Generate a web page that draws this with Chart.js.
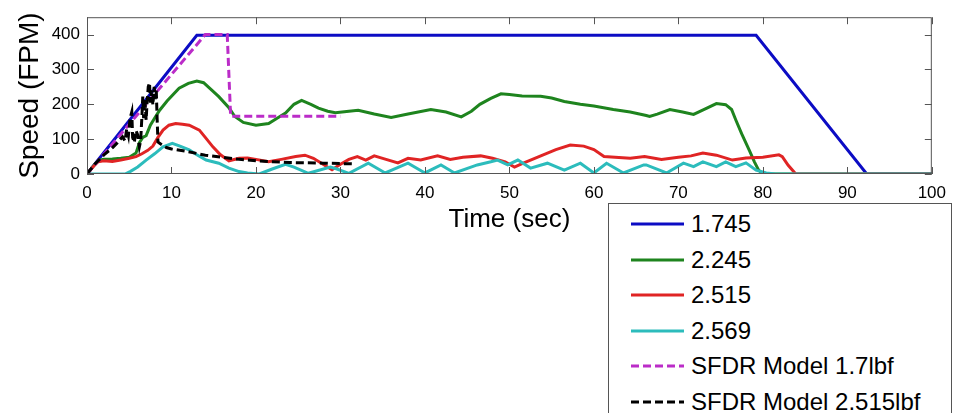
<!DOCTYPE html>
<html>
<head>
<meta charset="utf-8">
<script src="https://cdn.jsdelivr.net/npm/chart.js@4/dist/chart.umd.min.js"></script>
<style>
  html, body { margin: 0; padding: 0; background: #fff; }
  #wrap { position: relative; width: 955px; height: 413px; overflow: hidden; }
  #legend {
    position: absolute; left: 608px; top: 203px; width: 342px; height: 240px;
    border: 1px solid #555; background: #fff;
    font-family: "Liberation Sans", Arial, sans-serif; font-size: 24px; color: #000;
  }
  .row { position: absolute; left: 0; height: 30px; display: flex; align-items: center; white-space: nowrap; }
  .row svg { margin-left: 22px; margin-right: 7px; }
</style>
</head>
<body>
<div id="wrap">
  <canvas id="speedChart" width="955" height="413"></canvas>
  <div id="legend"></div>
</div>
<script>
// series names / colors (legend order)
const seriesNames = ['1.745', '2.245', '2.515', '2.569', 'SFDR Model 1.7lbf', 'SFDR Model 2.515lbf'];
const seriesColors = ['#0c0cc4', '#1e841e', '#e02424', '#2cbcbc', '#bb2cc8', '#000000'];
const seriesDashed = [false, false, false, false, true, true];

// x ticks / y ticks
const xTicks = [0, 10, 20, 30, 40, 50, 60, 70, 80, 90, 100];
const yTicks = [0, 100, 200, 300, 400];

// 1.745
const blueT = [0, 13, 79.2, 92.3, 100];
const blueV = [0, 398, 398, 0, 0];

// 2.245
const greenT = [0, 0.5, 1, 1.5, 2, 3, 4, 5, 5.8, 6.2, 6.6, 7, 7.5, 8, 8.6, 9.5, 10.9, 12, 13, 13.8, 14.8, 15.6, 16.8, 17.5, 18.5, 20, 21.5, 22.5, 23.5, 24.5, 25.4, 26.5, 27.4, 28.5, 29.4, 31, 32.1, 34, 36, 38, 40.7, 42.5, 44.3, 45.5, 46.5, 47.8, 49, 50, 51.5, 53.7, 55, 56.5, 58.4, 60, 62.3, 64.3, 66.2, 66.6, 67.5, 69, 70.5, 71.8, 73, 74.5, 75.6, 76.3, 76.8, 77.5, 78.4, 79, 79.5, 80, 100];
const greenV = [0, 15, 30, 40, 42, 43, 45, 48, 60, 90, 105, 110, 140, 160, 183, 210, 246, 260, 267, 262, 240, 222, 190, 165, 148, 140, 145, 160, 175, 200, 211, 200, 189, 180, 176, 180, 183, 172, 162, 172, 185, 178, 164, 180, 200, 217, 230, 228, 224, 223, 218, 208, 200, 195, 185, 178, 168, 165, 172, 185, 178, 171, 185, 202, 199, 185, 155, 115, 68, 35, 11, 0, 0];

// 2.515
const redT = [0, 0.7, 1.3, 2, 3, 4, 5, 5.8, 6.5, 7.2, 7.8, 8.4, 9, 9.7, 10.5, 11.3, 12.1, 13.3, 14, 14.9, 15.8, 16.8, 18, 19, 20, 21.5, 23, 24.7, 25.8, 26.8, 27.8, 29, 30, 31, 32, 33, 34, 35, 36.8, 38, 39.5, 41.5, 43, 44.5, 46.6, 48, 49.5, 50.6, 51.5, 52.5, 54, 55.5, 57.2, 58.8, 60, 61.2, 62.5, 64.3, 66, 68, 70, 71.5, 72.9, 74.5, 76.4, 78, 80, 81.9, 82.3, 83, 83.9, 100];
const redV = [0, 20, 35, 38, 36, 40, 45, 50, 58, 68, 80, 105, 126, 140, 145, 143, 140, 126, 105, 78, 55, 38, 45, 46, 42, 35, 42, 50, 54, 45, 30, 12, 28, 42, 50, 40, 52, 45, 32, 45, 40, 52, 42, 48, 52, 45, 35, 20, 30, 40, 55, 70, 83, 80, 70, 50, 48, 45, 50, 42, 48, 52, 60, 54, 40, 46, 48, 55, 50, 25, 0, 0];

// 2.569
const cyanT = [0, 4.5, 5.1, 6, 7, 8, 9, 10.1, 11, 12.1, 13, 14.1, 15.6, 16.8, 18, 19, 20.4, 22, 23.5, 24.5, 26.2, 28.8, 29.5, 31, 33.3, 35.3, 38, 40, 41.9, 43.5, 46.2, 47.8, 48.6, 49.8, 51, 52.5, 54.5, 56.5, 58.4, 60, 61.5, 63.5, 65.9, 66.2, 68.6, 70.6, 71.8, 72.9, 74.5, 75.6, 76.8, 78, 79.2, 80.4, 81.5, 100];
const cyanV = [0, 0, 7, 20, 40, 58, 78, 88, 80, 69, 55, 40, 31, 17, 7, 3, 0, 15, 28, 20, 2, 20, 15, 2, 31, 3, 31, 3, 26, 3, 26, 35, 40, 26, 40, 17, 31, 11, 31, 3, 31, 3, 26, 26, 3, 31, 21, 35, 21, 35, 21, 32, 11, 3, 0, 0];

// SFDR Model 1.7lbf
const magT = [0, 14, 16.6, 17.0, 30];
const magV = [0, 400, 400, 166, 166];

// SFDR Model 2.515lbf
const blackT = [0, 1, 2, 3, 3.6, 4.2, 4.5, 4.7, 4.9, 5.1, 5.3, 5.4, 5.6, 5.8, 6.0, 6.2, 6.35, 6.5, 6.6, 6.7, 6.85, 7.0, 7.1, 7.25, 7.4, 7.5, 7.65, 7.8, 7.95, 8.1, 8.2, 8.3, 8.4, 8.6, 9.4, 10, 12, 14, 16, 18, 20, 22, 24, 26, 28, 30, 31.5];
const blackV = [0, 30, 55, 75, 90, 107, 95, 130, 110, 160, 178, 105, 90, 125, 112, 78, 95, 165, 222, 160, 215, 155, 200, 250, 262, 205, 240, 198, 250, 215, 240, 160, 92, 88, 76, 72, 64, 54, 48, 42, 38, 35, 33, 32, 31, 30, 29];

const seriesT = [blueT, greenT, redT, cyanT, magT, blackT];
const seriesV = [blueV, greenV, redV, cyanV, magV, blackV];

const FONT = '"Liberation Sans", Arial, sans-serif';

const datasets = seriesNames.map((name, i) => ({
  label: name,
  data: seriesT[i].map((t, k) => ({ x: t, y: seriesV[i][k] })),
  borderColor: seriesColors[i],
  borderWidth: 3,
  borderDash: seriesDashed[i] ? [8, 4] : [],
  pointRadius: 0,
  tension: 0,
  fill: false,
  order: seriesNames.length - i
}));

// box + inward ticks like matlab
const framePlugin = {
  id: 'frame',
  afterDraw(chart) {
    const { ctx, chartArea: a, scales: { x, y } } = chart;
    ctx.save();
    ctx.strokeStyle = '#555';
    ctx.lineWidth = 1;
    ctx.strokeRect(a.left + 0.5, a.top + 0.5, a.right - a.left - 1, a.bottom - a.top - 1);
    ctx.beginPath();
    xTicks.forEach(v => {
      const px = Math.round(x.getPixelForValue(v)) + 0.5;
      ctx.moveTo(px, a.bottom); ctx.lineTo(px, a.bottom - 7);
      ctx.moveTo(px, a.top); ctx.lineTo(px, a.top + 7);
    });
    yTicks.forEach(v => {
      const py = Math.round(y.getPixelForValue(v)) + 0.5;
      ctx.moveTo(a.left, py); ctx.lineTo(a.left + 7, py);
      ctx.moveTo(a.right, py); ctx.lineTo(a.right - 7, py);
    });
    ctx.stroke();
    ctx.restore();
  }
};

const ctx = document.getElementById('speedChart').getContext('2d');
const chart = new Chart(ctx, {
  type: 'line',
  data: { datasets },
  options: {
    responsive: false,
    animation: false,
    layout: { padding: { left: 0, right: 18, top: 16, bottom: 178 } },
    plugins: { legend: { display: false }, tooltip: { enabled: false } },
    scales: {
      x: {
        type: 'linear', min: 0, max: 100,
        afterBuildTicks: s => { s.ticks = xTicks.map(v => ({ value: v })); },
        ticks: { padding: 9, maxRotation: 0, color: '#000', font: { family: FONT, size: 17 } },
        grid: { display: false, drawTicks: false },
        border: { display: false },
        title: { display: true, text: 'Time (sec)', color: '#000', padding: 0, font: { family: FONT, size: 26 } },
        afterFit: s => { s.height = 61; }
      },
      y: {
        type: 'linear', min: 0, max: 450,
        afterBuildTicks: s => { s.ticks = yTicks.map(v => ({ value: v })); },
        ticks: { padding: 7, color: '#000', font: { family: FONT, size: 17 } },
        grid: { display: false, drawTicks: false },
        border: { display: false },
        title: { display: true, text: 'Speed (FPM)', color: '#000', padding: { top: 13, bottom: 0 }, font: { family: FONT, size: 28 } },
        afterFit: s => { s.width = 87; }
      }
    }
  },
  plugins: [framePlugin]
});

// legend box
const legend = document.getElementById('legend');
seriesNames.forEach((name, i) => {
  const row = document.createElement('div');
  row.className = 'row';
  row.style.top = (20 + 35.6 * i - 15) + 'px';
  const dash = seriesDashed[i] ? ' stroke-dasharray="8 4"' : '';
  row.innerHTML = `<svg width="53" height="6"><line x1="0" y1="3" x2="53" y2="3" stroke="${seriesColors[i]}" stroke-width="3"${dash}/></svg><span>${name}</span>`;
  legend.appendChild(row);
});
</script>
</body>
</html>
